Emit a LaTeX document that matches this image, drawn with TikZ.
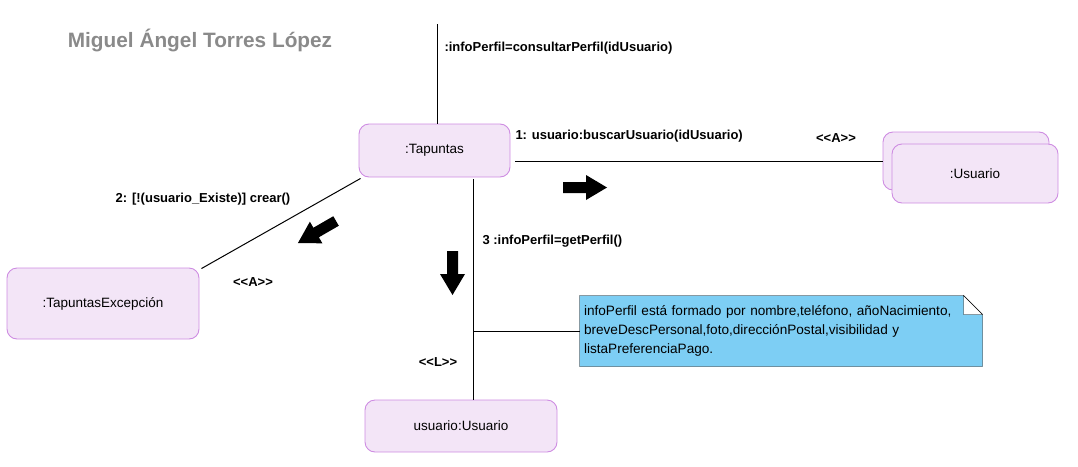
\documentclass[tikz,border=0pt]{standalone}
\usepackage{fontspec}
\setmainfont{Liberation Sans}
\usetikzlibrary{backgrounds}
\definecolor{lila}{RGB}{243,229,247}
\definecolor{lilaborde}{RGB}{206,140,226}
\definecolor{notaazul}{RGB}{125,206,244}
\definecolor{titulogris}{RGB}{138,138,138}
\newcommand{\estereo}[1]{<\kern0pt<#1>\kern0pt>}
\tikzset{
  objeto/.style={draw=lilaborde, fill=lila, rounded corners=10pt, line width=0.9pt, inner sep=0pt, font=\fontsize{13.5}{16}\selectfont},
  msg/.style={inner sep=0pt, font=\bfseries\fontsize{13}{15}\selectfont},
  nota/.style={inner sep=4pt, align=left, font=\fontsize{13.6}{19}\selectfont},
  flecha/.pic={\fill (-22,-5.5) -- (1,-5.5) -- (1,-12.5) -- (22,0) -- (1,12.5) -- (1,5.5) -- (-22,5.5) -- cycle;}
}

\begin{document}
\begin{tikzpicture}[x=1pt,y=1pt,line width=1pt]
\useasboundingbox (0,0) rectangle (1078,-466);
\node[text=titulogris, inner sep=0pt, font=\bfseries\fontsize{20.8}{24}\selectfont] (titulo) at (200,-40) {Miguel Ángel Torres López};
%%%%%%%%%%%%
\node[objeto, minimum width=151pt, minimum height=53pt] (tap) at (434.5,-150.5) {:Tapuntas};
\node[objeto, minimum width=166pt, minimum height=58pt] (usr2) at (966,-161) {};
\node[objeto, minimum width=166pt, minimum height=59pt] (usr) at (975,-173.5) {:Usuario};
\node[objeto, minimum width=192pt, minimum height=71pt] (exc) at (103,-303.5) {:TapuntasExcepción};
\node[objeto, minimum width=192pt, minimum height=52pt] (usu) at (461,-426) {usuario:Usuario};
\node[nota, minimum width=402pt, minimum height=70pt, text width=394pt] (nota) at (781,-331) {infoPerfil está formado por nombre,teléfono, añoNacimiento,\\breveDescPersonal,foto,direcciónPostal,visibilidad y\\listaPreferenciaPago.};
\begin{scope}[on background layer]
\draw[fill=notaazul] (nota.south west) -- (nota.north west) -- ([xshift=-19pt]nota.north east) -- ([yshift=-19pt]nota.north east) -- (nota.south east) -- cycle;
\draw[fill=white] ([xshift=-19pt]nota.north east) -- ([xshift=-19pt,yshift=-19pt]nota.north east) -- ([yshift=-19pt]nota.north east) -- cycle;
\end{scope}
%%%%%%%%%%%%
\coordinate (arriba) at (437,-24);
\draw (arriba) -- (arriba |- tap.north);
\draw ([xshift=5pt]tap.east |- usr2.west) -- (usr2.west);
\draw ([shift={(2pt,-1pt)}]tap.south west) -- ([shift={(2pt,-1pt)}]exc.north east);
\draw ([xshift=12pt]usu.north) -- ([xshift=12pt,yshift=-2pt]usu.north |- tap.south);
\draw (nota.west) -- ([xshift=12pt]usu.north |- nota.west);
%%%%%%%%%%%%
\node[msg, anchor=west] (m0) at (444,-48) {:infoPerfil=consultarPerfil(idUsuario)};
\node[msg, anchor=west] (m1) at (515,-136) {1: usuario:buscarUsuario(idUsuario)};
\node[msg] (a1) at (836,-138) {\estereo{A}};
\node[msg] (m2) at (203,-199) {2: [!(usuario\_Existe)] crear()};
\node[msg] (a2) at (253,-282) {\estereo{A}};
\node[msg, anchor=west] (m3) at (482,-241) {3 :infoPerfil=getPerfil()};
\node[msg] (l1) at (438,-362) {\estereo{L}};
%%%%%%%%%%%%
\pic at (585,-187.5) {flecha};
\pic[rotate=-90] at (452.5,-273) {flecha};
\pic[rotate=210] at (317,-232) {flecha};
\end{tikzpicture}
\end{document}
